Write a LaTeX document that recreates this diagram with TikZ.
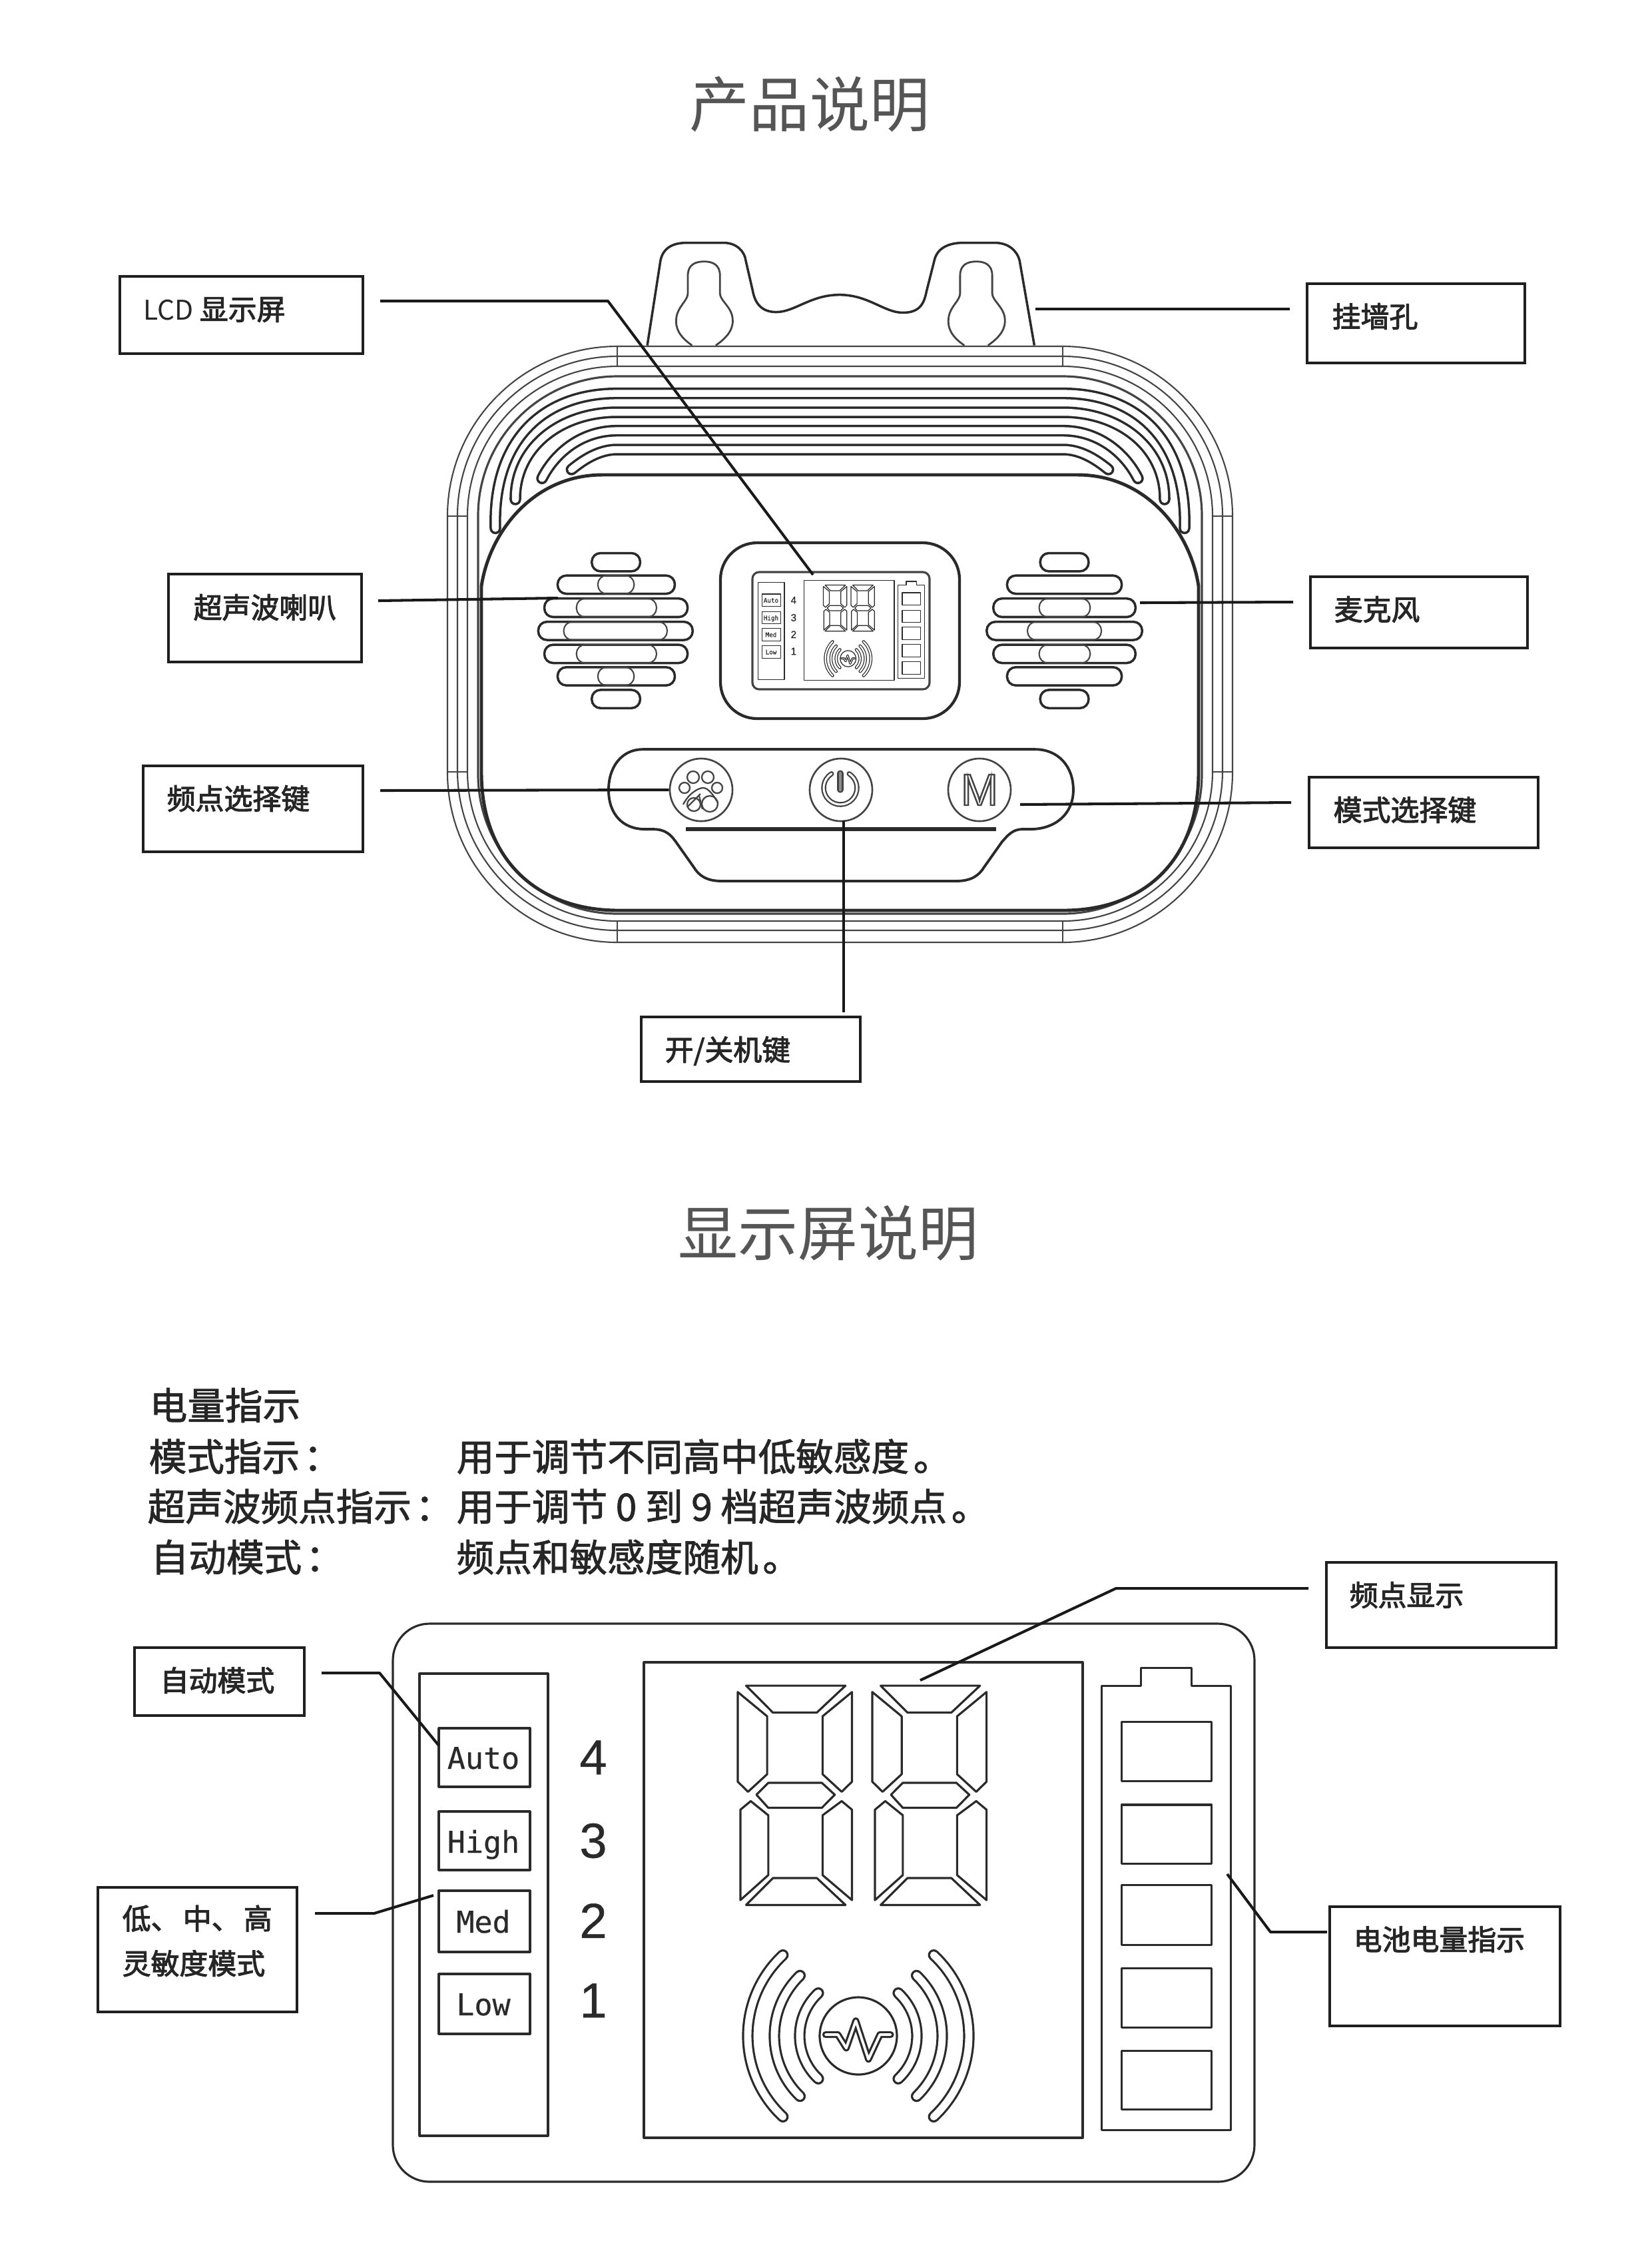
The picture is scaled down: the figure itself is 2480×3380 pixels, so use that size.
\documentclass[tikz,border=0pt]{standalone}
\usepackage{fontspec}
\setmainfont{Noto Sans CJK SC}
\newfontfamily\latn{Liberation Sans}
\newfontfamily\latnb[FakeBold=0.5]{Liberation Sans}
\newfontfamily\monof[FakeBold=0.45]{DejaVu Sans Mono}
\newcommand\fs[1]{\fontsize{#1}{#1}\selectfont}
% text drawn with fill and stroke, for a weight between regular and bold
\newcommand\hv[2]{\special{pdf:code 2 Tr #1 w}#2\special{pdf:code 0 Tr 1 w}}
\definecolor{ink}{HTML}{2A2A2A}
\definecolor{softink}{HTML}{444444}
\definecolor{titlegray}{HTML}{555555}
\tikzset{
  pl/.style={draw=ink,line width=1pt,line join=round},
  thin line/.style={draw=softink,line width=.6pt,line join=round},
  lbox/.style={draw=black!88,line width=1.3pt,rectangle,inner sep=0pt,outer sep=0pt},
  ltext/.style={inner sep=0pt,anchor=west,text=black!85,font=\fs{12.2}},
  conn/.style={draw=black!90,line width=1.15pt,line join=round},
  title text/.style={inner sep=0pt,text=titlegray,font=\fs{25.6}},
  body text/.style={inner sep=0pt,anchor=west,text=black!85,font=\fs{16.1}},
  groove/.style={draw=ink,line width=1pt,double=white,double distance=.105cm,line cap=round},
  pillm/.style={draw=ink,line width=1pt,rounded corners=.13cm},
  pilli/.style={draw=softink,line width=.6pt,rounded corners=.13cm},
}
% label box + its text
\newcommand\lab[8]{%
  \node[lbox,minimum width={(#3-#2)*0.01cm},minimum height={(#5-#4)*0.01cm}] (#1) at ({(#2+#3)/2},{(#4+#5)/2}) {};
  \node[ltext] (#1t) at (#6,#7) {#8};
}
\newcommand\DigitShape{%
  \draw[pl] (210,198)--(470,198)--(395,270)--(280,270)--cycle;
  \draw[pl] (188,215)--(265,280)--(265,435)--(215,482)--(188,455)--cycle;
  \draw[pl] (487,215)--(410,280)--(410,435)--(460,482)--(487,455)--cycle;
  \draw[pl] (237,490)--(268,458)--(408,458)--(442,490)--(408,525)--(268,525)--cycle;
  \draw[pl] (195,530)--(222,507)--(268,545)--(268,705)--(195,772)--cycle;
  \draw[pl] (487,530)--(460,507)--(410,545)--(410,705)--(487,772)--cycle;
  \draw[pl] (210,785)--(280,713)--(395,713)--(470,785)--cycle;
}
% the display. #1 name prefix, #2 line width pt, #3 corner, #4 band inner pt, #5 wave inner pt
\newcommand\Panel[5]{%
  \begin{scope}[pl/.style={draw=ink,line width=#2pt,line join=round},
     modetext/.style={inner sep=0pt,anchor=base,transform shape,text=ink,font=\monof\fs{12.8}},
     numtext/.style={inner sep=0pt,transform shape,text=ink,font=\latnb\fs{21}}]
  \draw[pl,rounded corners=#3] (590,2438) rectangle (1884,3276);
  \draw[pl] (630,2513) rectangle (823,3207);
  \draw[pl] (659,2595) rectangle (796,2683);
  \draw[pl] (659,2720) rectangle (796,2808);
  \draw[pl] (659,2839) rectangle (796,2931);
  \draw[pl] (659,2964) rectangle (796,3054);
  \node[modetext] (#1auto) at (726,2656) {Auto};
  \node[modetext] (#1high) at (726,2782) {High};
  \node[modetext] (#1med) at (726,2902) {Med};
  \node[modetext] (#1low) at (726,3026) {Low};
  \node[numtext] (#1n4) at (891,2639) {4};
  \node[numtext] (#1n3) at (891,2764) {3};
  \node[numtext] (#1n2) at (891,2884) {2};
  \node[numtext] (#1n1) at (891,3004) {1};
  \draw[pl] (967,2496) rectangle (1626,3210);
  \begin{scope}[shift={(1000,2420)},xscale=.574,yscale=.561]
    \DigitShape
    \begin{scope}[shift={(352,0)}]\DigitShape\end{scope}
    \draw[pl] (1140,198)--(1243,198)--(1243,150)--(1375,150)--(1375,198)--(1478,198)--(1478,1388)--(1140,1388)--cycle;
    \draw[pl] (1192,295) rectangle (1427,453);
    \draw[pl] (1192,517) rectangle (1427,675);
    \draw[pl] (1192,732) rectangle (1427,892);
    \draw[pl] (1192,955) rectangle (1427,1113);
    \draw[pl] (1192,1175) rectangle (1427,1333);
    \draw[draw=ink,line width=#2pt,double=white,double distance=#5pt,line join=round,line cap=round]
      (418,1132)--(450,1132)--(472,1168)--(497,1095)--(530,1198)--(560,1132)--(588,1132);
  \end{scope}
  \draw[pl] (1289,3057) circle[radius=58];
  \foreach \r/\a in {88/47,126/46,166/47}{
    \draw[draw=ink,line width=#2pt,double=white,double distance=#4pt,line cap=round]
      (1289,3057) ++(180-\a:\r) arc[start angle=180-\a,end angle=180+\a,radius=\r];
    \draw[draw=ink,line width=#2pt,double=white,double distance=#4pt,line cap=round]
      (1289,3057) ++(-\a:\r) arc[start angle=-\a,end angle=\a,radius=\r];
  }
  \end{scope}
}
\newcommand\Keyhole{%
  \draw[draw=softink,line width=.8pt] (505,400) .. controls (480,370) and (473,340) .. (475,310) .. controls (477,270) and (497,250) .. (497,225) -- (497,165) .. controls (497,130) and (510,118) .. (528,118) .. controls (545,118) and (558,130) .. (558,165) -- (558,225) .. controls (558,250) and (580,270) .. (582,310) .. controls (584,340) and (575,370) .. (550,400);
}
\begin{document}
\begin{tikzpicture}[x=0.01cm,y=-0.01cm]
\useasboundingbox (0,0) rectangle (2480,3380);
\fill[white] (0,0) rectangle (2480,3380);

\node[title text] (t1) at (1216,157) {产品说明};
\node[title text] (t2) at (1244,1852) {显示屏说明};

% ---- device body
\begin{scope}[shift={(640,340)},xscale=.7908,yscale=.4464]
  \draw[pl] (420,400) -- (445,115) .. controls (450,70) and (470,55) .. (495,55) -- (565,55) .. controls (590,55) and (605,85) .. (607,115) -- (620,215) .. controls (625,265) and (640,288) .. (665,288) .. controls (700,288) and (730,230) .. (785,230) .. controls (840,230) and (870,290) .. (905,290) .. controls (935,290) and (945,265) .. (950,220) -- (965,115) .. controls (970,75) and (990,55) .. (1020,55) -- (1080,55) .. controls (1105,55) and (1122,80) .. (1127,115) -- (1155,400);
  \Keyhole
  \begin{scope}[shift={(517,0)}]\Keyhole\end{scope}
\end{scope}
\draw[thin line,rounded corners=2.55cm] (672,520) rectangle (1851,1415);
\draw[thin line,rounded corners=2.40cm] (687,535) rectangle (1836,1397);
\draw[thin line,rounded corners=2.25cm] (702,550) rectangle (1821,1383);
\draw[thin line,line width=.9pt,rounded corners=2.09cm] (718,565) rectangle (1805,1372);
\foreach \px in {927,1596}{
  \draw[thin line] (\px,520)--(\px,550);
  \draw[thin line] (\px,1383)--(\px,1415);
}
\foreach \py in {775,1159}{
  \draw[thin line] (672,\py)--(702,\py);
  \draw[thin line] (1821,\py)--(1851,\py);
}
% grooves
\begin{scope}[shift={(660,500)},scale=.33333]
  \draw[groove] (252,880) .. controls (240,480) and (470,272) .. (800,272) -- (2809,272) .. controls (3139,272) and (3369,480) .. (3357,880);
  \draw[groove] (342,750) .. controls (340,520) and (540,357) .. (800,357) -- (2809,357) .. controls (3069,357) and (3269,520) .. (3267,750);
  \draw[groove] (462,655) .. controls (520,540) and (640,440) .. (800,440) -- (2809,440) .. controls (2969,440) and (3089,540) .. (3147,655);
  \draw[groove] (595,615) .. controls (650,570) and (720,525) .. (800,525) -- (2809,525) .. controls (2889,525) and (2959,570) .. (3014,615);
\end{scope}
% face
\draw[draw=ink,line width=1.4pt,fill=white,line join=round] (723,880) .. controls (735,800) and (800,713) .. (905,713) -- (1618,713) .. controls (1723,713) and (1788,800) .. (1800,880) -- (1800,1160) .. controls (1800,1290) and (1720,1367) .. (1597,1367) -- (929,1367) .. controls (806,1367) and (723,1290) .. (723,1160) -- cycle;

% speakers, LCD housing, key bar
\begin{scope}[shift={(640,780)},xscale=.7653,yscale=.4209]
  \foreach \xa/\xb/\ya/\yb in {325/420/120/185,258/488/200/265,232/513/282/348,220/523/365/430,232/513/447/512,258/488/527/592,325/420/608/673,
     1205/1300/120/185,1140/1365/200/265,1113/1392/282/348,1100/1405/365/430,1113/1392/447/512,1140/1365/527/592,1205/1300/608/673}
    {\draw[pillm] (\xa,\ya) rectangle (\xb,\yb);}
  \foreach \xa/\xb/\ya/\yb in {337/408/200/265,295/452/282/348,270/473/365/430,295/452/447/512,337/408/527/592,
     1203/1303/282/348,1180/1325/365/430,1203/1303/447/512}
    {\draw[pilli] (\xa,\ya) rectangle (\xb,\yb);}
  \draw[pl,line width=1.1pt] (425,820) -- (1195,820) .. controls (1240,820) and (1270,880) .. (1270,965) .. controls (1270,1050) and (1235,1105) .. (1185,1105) -- (1170,1105) .. controls (1150,1105) and (1140,1130) .. (1130,1150) -- (1095,1240) .. controls (1085,1270) and (1070,1290) .. (1040,1290) -- (580,1290) .. controls (550,1290) and (535,1270) .. (525,1240) -- (490,1150) .. controls (480,1125) and (470,1105) .. (445,1105) -- (430,1105) .. controls (385,1105) and (358,1050) .. (358,965) .. controls (358,880) and (385,820) .. (425,820) -- cycle;
  \draw[draw=ink,line width=1.5pt] (510,1105)--(1118,1105);
\end{scope}
\draw[pl,line width=1.2pt,rounded corners=.55cm] (1082,815) rectangle (1441,1079);

% miniature display
\begin{scope}[shift={(1008.7,347)},xscale=.2056,yscale=.21]
  \Panel{m}{.35}{.1cm}{.62}{.2}
\end{scope}
\draw[draw=softink,line width=.9pt,rounded corners=.1cm] (1130,859) rectangle (1396,1035);

% keys
\node[circle,draw=softink,line width=.75pt,minimum size=.94cm,inner sep=0pt] (btnF) at (1053,1186) {};
\node[circle,draw=softink,line width=.75pt,minimum size=.94cm,inner sep=0pt] (btnP) at (1263,1186) {};
\node[circle,draw=softink,line width=.75pt,minimum size=.94cm,inner sep=0pt,text=softink,font=\latn\fs{19}] (btnM) at (1471,1186) {\special{pdf:code 1 Tr 0.7 w}M\special{pdf:code 0 Tr 1 w}};
% paw
\foreach \px/\py/\pr in {1041/1167/9,1063/1167/9,1028/1183/8,1077/1183/8,1042/1208/10,1066/1207/12}
  {\draw[draw=softink,line width=.65pt] (\px,\py) circle[radius=\pr];}
\draw[draw=softink,line width=.65pt,line join=round] (1026,1208) .. controls (1035,1190) and (1050,1183) .. (1056,1183) .. controls (1064,1183) and (1072,1195) .. (1078,1205);
\draw[draw=softink,line width=.65pt] (1032,1212)--(1052,1192) (1050,1195)--(1055,1215);
% power
\draw[draw=softink,line width=.65pt,double=white,double distance=.03cm,line cap=round] (1262,1183) ++(-58:25) arc[start angle=-58,end angle=238,radius=25];
\draw[draw=softink,line width=.65pt,double=black!45,double distance=.045cm,line cap=round] (1262,1161)--(1262,1186);

% connectors ends
\coordinate (aLcd) at (571,452);\coordinate (bLcd) at (913,452);\coordinate (cLcd) at (1221,863);
\coordinate (aSpk) at (568,902);\coordinate (cSpk) at (838,898);
\coordinate (aFrq) at (571,1187);
\coordinate (aWal) at (1937,464);\coordinate (cWal) at (1555,464);
\coordinate (aMic) at (1942,904);\coordinate (cMic) at (1712,905);
\coordinate (aMod) at (1939,1205);\coordinate (cMod) at (1532,1208);
\coordinate (aPow) at (1267,1520);\coordinate (cPow) at (1267,1232);

% labels upper
\lab{lLcd}{180}{545}{415}{531}{215}{465}{{\fs{11.6}LCD }\hv{.3}{显示屏}}
\lab{lSpk}{253}{543}{862}{994}{290}{912}{\hv{.3}{超声波喇叭}}
\lab{lFrq}{215}{545}{1150}{1279}{250}{1199}{\hv{.3}{频点选择键}}
\lab{lWal}{1963}{2290}{426}{545}{2000}{475}{\hv{.3}{挂墙孔}}
\lab{lMic}{1968}{2294}{866}{973}{2003}{915}{\hv{.3}{麦克风}}
\lab{lMod}{1966}{2310}{1167}{1273}{2002}{1216}{\hv{.3}{模式选择键}}
\lab{lPow}{963}{1292}{1527}{1624}{998}{1578}{\hv{.3}{开/关机键}}

\draw[conn] (aLcd)--(bLcd)--(cLcd);
\draw[conn] (aSpk)--(cSpk);
\draw[conn] (aFrq)--(btnF.west);
\draw[conn] (aWal)--(cWal);
\draw[conn] (aMic)--(cMic);
\draw[conn] (aMod)--(cMod);
\draw[conn] (aPow)--(cPow);

% text block
\node[body text] (b1) at (224,2110) {\hv{.25}{电量指示}};
\node[body text] (b2) at (223,2187) {\hv{.25}{模式指示\kern.1em：}};
\node[body text] (b3) at (221,2262) {\hv{.25}{超声波频点指示\kern.1em：}};
\node[body text] (b4) at (226,2338) {\hv{.25}{自动模式\kern.1em：}};
\node[body text] (b2r) at (685,2187) {\hv{.25}{用于调节不同高中低敏感度\kern.12em。}};
\node[body text] (b3r) at (685,2262) {\hv{.25}{用于调节 0 到 9 档超声波频点\kern.12em。}};
\node[body text] (b4r) at (685,2338) {\hv{.25}{频点和敏感度随机\kern.12em。}};

% large display
\Panel{p}{.9}{.55cm}{3.1}{1.1}

% labels lower
\lab{lAuto}{202}{457}{2474}{2576}{240}{2523}{\hv{.3}{自动模式}}
\node[lbox,minimum width=2.99cm,minimum height=1.87cm] (lSens) at (296.5,2927.5) {};
\node[inner sep=0pt,anchor=north west,align=left,text=black!85,font=\fs{12.2}] (lSenst) at (183,2860) {\makebox[2.25cm][s]{\hv{.3}{低、}\hfill\hv{.3}{中、}\hfill\hv{.3}{高}}\\[7pt]\hv{.3}{灵敏度模式}};
\lab{lFd}{1992}{2337}{2346}{2474}{2026}{2395}{\hv{.3}{频点显示}}
\lab{lBat}{1997}{2343}{2863}{3042}{2032}{2912}{\hv{.3}{电池电量指示}}

\coordinate (aAuto) at (483,2512);\coordinate (bAuto) at (570,2512);\coordinate (cAuto) at (659,2621);
\coordinate (aSens) at (473,2873);\coordinate (bSens) at (562,2873);\coordinate (cSens) at (651,2846);
\coordinate (aFd) at (1965,2385);\coordinate (bFd) at (1676,2385);\coordinate (cFd) at (1382,2523);
\coordinate (aBat) at (1993,2901);\coordinate (bBat) at (1908,2901);\coordinate (cBat) at (1843,2814);
\draw[conn] (aAuto)--(bAuto)--(cAuto);
\draw[conn] (aSens)--(bSens)--(cSens);
\draw[conn] (aFd)--(bFd)--(cFd);
\draw[conn] (aBat)--(bBat)--(cBat);
\end{tikzpicture}
\end{document}
